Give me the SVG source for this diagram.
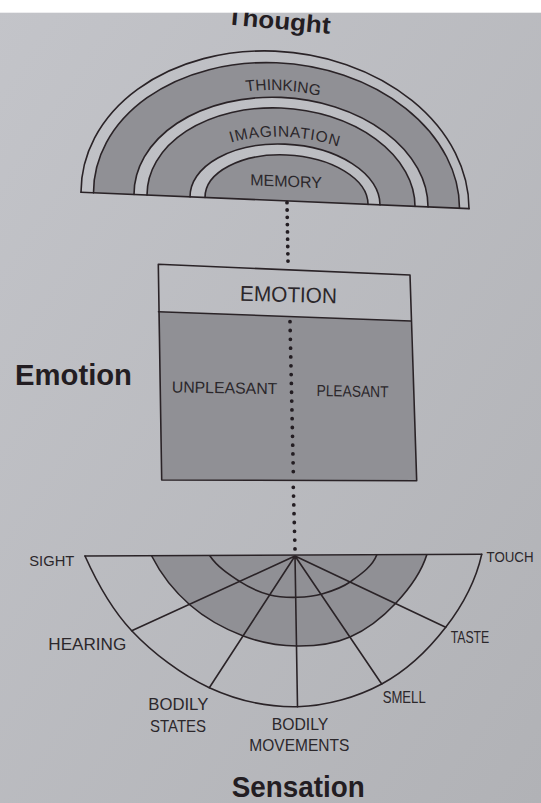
<svg xmlns="http://www.w3.org/2000/svg" width="541" height="803" viewBox="0 0 541 803">
<defs>
<linearGradient id="paper" x1="0" y1="0" x2="1" y2="1">
<stop offset="0" stop-color="#c3c4c9"/>
<stop offset="1" stop-color="#b1b2b6"/>
</linearGradient>
<path id="tpThink" d="M125.2,188.9 A153.8,110.4 0 0 1 432.8,188.9"/>
<path id="tpImag" d="M173,188.9 A112,64 0 0 1 397,188.9"/>
</defs>
<style>
.ln{fill:none;stroke:#2a2327;stroke-width:1.6;stroke-linejoin:round;stroke-linecap:round}
.gr{fill:#909095;stroke:none}
.lb{font-family:'Liberation Sans',Arial,sans-serif;fill:#2b272b}
.hd{font-family:'Liberation Sans',Arial,sans-serif;font-weight:bold;fill:#231d22}
.dot{fill:none;stroke:#231d22;stroke-width:3.8;stroke-linecap:round}
</style>
<rect x="0" y="0" width="541" height="803" fill="url(#paper)"/>

<g id="title-thought">
<text class="hd" x="278" y="29" font-size="24" text-anchor="middle" textLength="104" lengthAdjust="spacingAndGlyphs" transform="rotate(5.2 278 29)">Thought</text>
</g>

<g id="thought" transform="matrix(1,0.042,0,1,0,0)">
<path class="gr" d="M93.5,188.9 A183,137.7 0 0 1 459.5,188.9 L428,188.9 A147,103.3 0 0 0 134,188.9 Z"/>
<path class="gr" d="M147,188.9 A134,92.7 0 0 1 415,188.9 L380,188.9 A95,56.7 0 0 0 190,188.9 Z"/>
<path class="gr" d="M205,188.9 A81.5,46 0 0 1 368,188.9 Z"/>
<path class="ln" d="M81,188.9 A194,149.3 0 0 1 469,188.9"/>
<path class="ln" d="M93.5,188.9 A183,137.7 0 0 1 459.5,188.9"/>
<path class="ln" d="M134,188.9 A147,103.3 0 0 1 428,188.9"/>
<path class="ln" d="M147,188.9 A134,92.7 0 0 1 415,188.9"/>
<path class="ln" d="M190,188.9 A95,56.7 0 0 1 380,188.9"/>
<path class="ln" d="M205,188.9 A81.5,46 0 0 1 368,188.9"/>
<path class="ln" d="M81,188.9 H469"/>
<text class="lb" font-size="15.5"><textPath href="#tpThink" startOffset="51%" text-anchor="middle">THINKING</textPath></text>
<text class="lb" font-size="15.5" letter-spacing="0.7"><textPath href="#tpImag" startOffset="50%" text-anchor="middle">IMAGINATION</textPath></text>
<text class="lb" font-size="16" x="286" y="174.7" text-anchor="middle">MEMORY</text>
</g>

<g id="emotion-box">
<polygon class="gr" points="158.5,311.7 410.7,321 416.7,480.7 161.7,480"/>
<polygon class="ln" points="158.3,264.3 410,275 416.7,480.7 161.7,480"/>
<line class="ln" x1="158.5" y1="311.7" x2="410.7" y2="321"/>
<text class="lb" x="288.3" y="302" font-size="21.5" text-anchor="middle" textLength="97" lengthAdjust="spacingAndGlyphs" transform="rotate(1.5 288.3 302)">EMOTION</text>
<text class="lb" x="224.5" y="393.3" font-size="16" text-anchor="middle" textLength="105.6" lengthAdjust="spacingAndGlyphs" transform="rotate(1 224.5 393.3)">UNPLEASANT</text>
<text class="lb" x="352.5" y="396.7" font-size="16" text-anchor="middle" textLength="72" lengthAdjust="spacingAndGlyphs" transform="rotate(1 352.5 396.7)">PLEASANT</text>
</g>

<g id="title-emotion">
<text class="hd" x="15" y="385" font-size="30" textLength="117" lengthAdjust="spacingAndGlyphs">Emotion</text>
</g>

<g id="sensation">
<path class="gr" d="M151.7,556 C161,574.5 174.73,591.67 190,605 C205.27,618.33 225.42,629.17 243.3,636 C261.18,642.83 279.52,645.83 297.3,646 C315.08,646.17 333.55,644.17 350,637 C366.45,629.83 383.22,616.67 396,603 C408.78,589.33 421,573.1 426.7,555 Z"/>
<path class="ln" d="M85,556 C97,582.8 111,608.75 131.7,630.7 C152.4,652.65 181.67,675.03 209.3,687.7 C236.93,700.37 268.77,707.32 297.5,706.7 C326.23,706.08 357,697.23 381.7,684 C406.4,670.77 429.03,648.92 445.7,627.3 C462.37,605.68 475.8,580.75 481.7,554.3"/>
<path class="ln" d="M151.7,556 C161,574.5 174.73,591.67 190,605 C205.27,618.33 225.42,629.17 243.3,636 C261.18,642.83 279.52,645.83 297.3,646 C315.08,646.17 333.55,644.17 350,637 C366.45,629.83 383.22,616.67 396,603 C408.78,589.33 421,573.1 426.7,555"/>
<path class="ln" d="M210,556 C217.3,567 230,575.2 240,581.7 C250,588.2 260.45,592.4 270,595 C279.55,597.6 288.63,597.47 297.3,597.3 C305.97,597.13 313.22,596.55 322,594 C330.78,591.45 340.88,588.5 350,582 C359.12,575.5 372.3,566.9 376.7,555"/>
<path class="ln" d="M295,556 L131.7,630.7 M295,556 L209.3,687.7 M295,556 L297.5,706.7 M295,556 L381.7,684 M295,556 L445.7,627.3"/>
<path class="ln" d="M85,556 L481.7,554.3"/>
<text class="lb" x="29.3" y="566" font-size="15" textLength="45" lengthAdjust="spacingAndGlyphs">SIGHT</text>
<text class="lb" x="486.5" y="561.7" font-size="15.5" textLength="47" lengthAdjust="spacingAndGlyphs">TOUCH</text>
<text class="lb" x="48.3" y="650" font-size="16.5" textLength="78" lengthAdjust="spacingAndGlyphs">HEARING</text>
<text class="lb" x="450.7" y="643.3" font-size="16" textLength="38.6" lengthAdjust="spacingAndGlyphs">TASTE</text>
<text class="lb" x="382.7" y="703.3" font-size="16" textLength="43" lengthAdjust="spacingAndGlyphs">SMELL</text>
<text class="lb" x="148.3" y="710" font-size="17" textLength="60" lengthAdjust="spacingAndGlyphs">BODILY</text>
<text class="lb" x="150" y="731.7" font-size="17" textLength="56" lengthAdjust="spacingAndGlyphs">STATES</text>
<text class="lb" x="271.7" y="730" font-size="17" textLength="56.6" lengthAdjust="spacingAndGlyphs">BODILY</text>
<text class="lb" x="249.3" y="750.7" font-size="17" textLength="100" lengthAdjust="spacingAndGlyphs">MOVEMENTS</text>
</g>

<g id="title-sensation">
<text class="hd" x="231.7" y="796.7" font-size="30" textLength="133" lengthAdjust="spacingAndGlyphs">Sensation</text>
</g>

<g id="connectors">
<path class="dot" stroke-dasharray="0 7.3" d="M287,202.7 L288,261.1"/>
<path class="dot" stroke-dasharray="0 8.82" d="M290,321.7 L293.3,471.7"/>
<path class="dot" stroke-dasharray="0 8.8" d="M293.3,487.3 L295,548.9"/>
</g>

<rect x="0" y="0" width="541" height="12.7" fill="#ffffff"/>
</svg>
